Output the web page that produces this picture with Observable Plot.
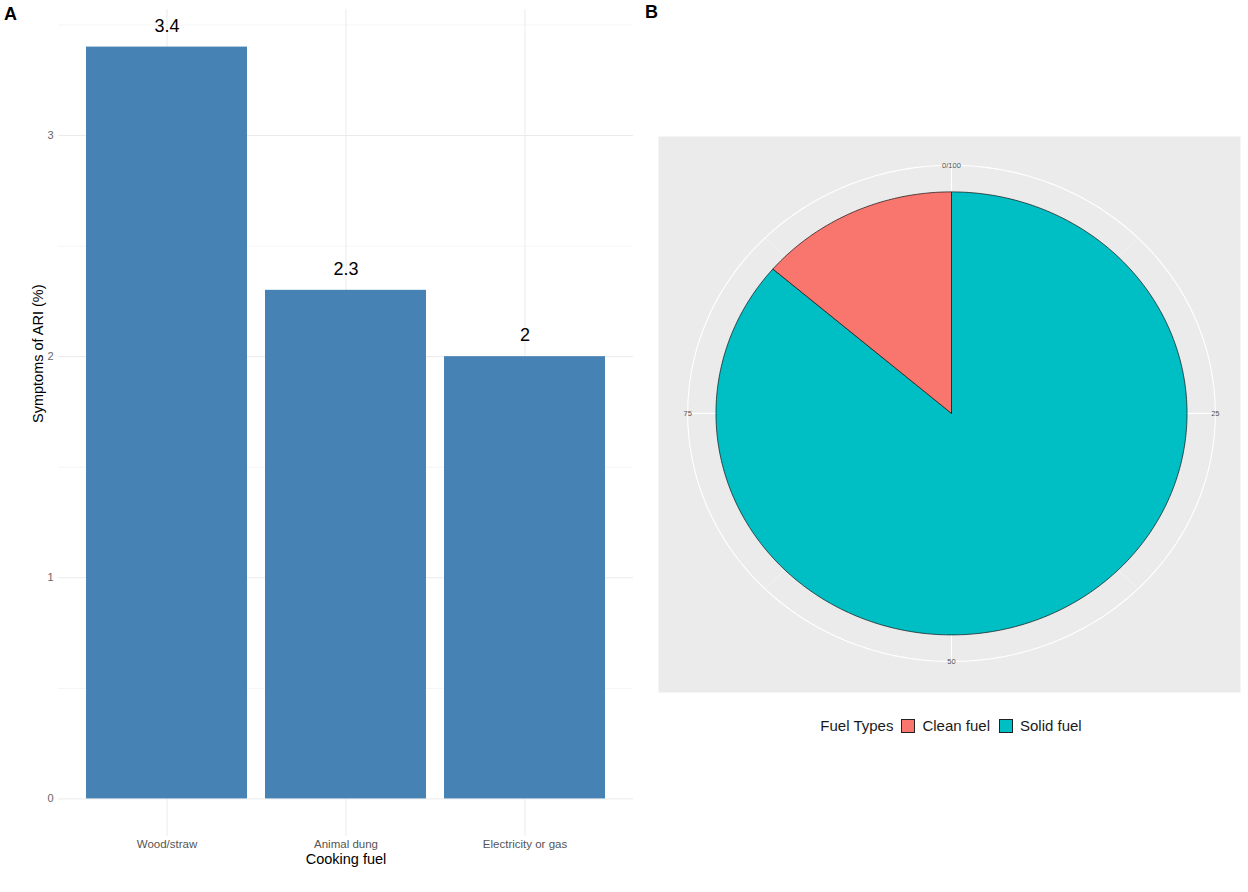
<!DOCTYPE html>
<html>
<head>
<meta charset="utf-8">
<script src="https://cdn.jsdelivr.net/npm/d3@7"></script>
<script src="https://cdn.jsdelivr.net/npm/@observablehq/plot@0.6"></script>
<style>
  html, body { margin: 0; padding: 0; background: #fff; }
  #fig { position: relative; width: 1248px; height: 892px; font-family: "Liberation Sans", Arial, sans-serif; overflow: hidden; }
  .panel { position: absolute; top: 0; }
  .tag { position: absolute; font-weight: bold; font-size: 18px; color: #000; }
  #legend { position: absolute; left: 655px; width: 592px; top: 717px; display: flex; justify-content: center; align-items: center; font-size: 15px; color: #1a1a1a; }
  .sw { width: 12px; height: 12px; border: 0.8px solid #222; display: inline-block; }
</style>
</head>
<body>
<div id="fig">
  <div class="tag" style="left:4px; top:4px;">A</div>
  <div class="tag" style="left:645px; top:2px;">B</div>
  <div id="panelA" class="panel" style="left:0px;"></div>
  <div id="panelB" class="panel" style="left:640px;"></div>
  <div id="legend"></div>
</div>
<script>
// ---------- Data: panel A ----------
const cookingFuels = ["Wood/straw", "Animal dung", "Electricity or gas"];
const ariPercent = [3.4, 2.3, 2];
const yMajorTicks = [0, 1, 2, 3];
const yMinorTicks = [0.5, 1.5, 2.5, 3.5];

// ---------- Data: panel B ----------
const fuelTypes = ["Clean fuel", "Solid fuel"];
const fuelShares = [13.7, 86.3];
const fuelColors = ["#F8766D", "#00BFC4"];
const thetaMajor = [0, 25, 50, 75];
const thetaLabels = ["0/100", "25", "50", "75"];
const thetaMinor = [12.5, 37.5, 62.5, 87.5];

const FONT = '"Liberation Sans", Arial, sans-serif';

// ---------- Panel A: bar chart ----------
const barData = cookingFuels.map((f, i) => ({fuel: f, value: ariPercent[i]}));

const chartA = Plot.plot({
  width: 640,
  height: 880,
  marginLeft: 58,
  marginRight: 7,
  marginTop: 9,
  marginBottom: 44,
  style: {fontFamily: FONT, background: "transparent", overflow: "visible"},
  x: {domain: cookingFuels, paddingInner: 0.1, paddingOuter: 0.15},
  y: {domain: [-0.17, 3.57]},
  marks: [
    Plot.ruleY(yMinorTicks, {stroke: "#f2f2f2", strokeWidth: 0.8}),
    Plot.ruleY(yMajorTicks, {stroke: "#ebebeb", strokeWidth: 1}),
    Plot.ruleX(cookingFuels, {x: d => d, stroke: "#ebebeb", strokeWidth: 1}),
    Plot.barY(barData, {x: "fuel", y: "value", fill: "#4682B4"}),
    Plot.text(barData, {x: "fuel", y: "value", text: d => String(d.value), dy: -21, fontSize: 18, fill: "#000"}),
    Plot.axisY({ticks: yMajorTicks, tickFormat: d => String(d), tickSize: 0, tickPadding: 5, fontSize: 11, color: "#666", label: null}),
    Plot.axisX({tickSize: 0, tickPadding: 3, fontSize: 11.5, color: "#555", label: null}),
    Plot.text([0], {frameAnchor: "bottom", dy: 27, text: () => "Cooking fuel", fontSize: 14.5, fill: "#000"}),
    Plot.text([0], {frameAnchor: "left", dx: -20, rotate: -90, text: () => "Symptoms of ARI (%)", fontSize: 14.5, fill: "#000"})
  ]
});
document.getElementById("panelA").appendChild(chartA);

// ---------- Panel B: pie in polar coordinates ----------
// Stack like ggplot: the first level sits on top of the theta range.
const slices = [];
{
  let acc = 0;
  for (let i = fuelTypes.length - 1; i >= 0; --i) {
    slices.push({type: fuelTypes[i], color: fuelColors[i], t0: acc, t1: acc + fuelShares[i]});
    acc += fuelShares[i];
  }
}
const total = d3.sum(fuelShares);
const px = (t, r) => r * Math.sin(2 * Math.PI * t / total);
const py = (t, r) => r * Math.cos(2 * Math.PI * t / total);

// outline points of each slice (centre + arc), derived from the shares above
const slicePts = slices.flatMap(s => {
  const ts = d3.range(s.t0, s.t1, 0.2).concat([s.t1]);
  return [{type: s.type, x: 0, y: 0}]
    .concat(ts.map(t => ({type: s.type, x: px(t, 1), y: py(t, 1)})))
    .concat([{type: s.type, x: 0, y: 0}]);
});

const RING = 1.12;
const ringPts = d3.range(0, total + 0.2, 0.2).map(t => ({x: px(t, RING), y: py(t, RING)}));

const chartB = Plot.plot({
  width: 608,
  height: 720,
  marginLeft: 18,
  marginRight: 8,
  marginTop: 136,
  marginBottom: 28,
  style: {fontFamily: FONT, background: "transparent", overflow: "visible"},
  x: {domain: [-1.244, 1.227], axis: null},
  y: {domain: [-1.26, 1.25], axis: null},
  color: {domain: fuelTypes, range: fuelColors},
  marks: [
    Plot.frame({fill: "#ebebeb", stroke: null}),
    Plot.link(thetaMinor, {x1: 0, y1: 0, x2: t => px(t, RING), y2: t => py(t, RING), stroke: "#f7f7f7", strokeWidth: 0.6}),
    Plot.link(thetaMajor, {x1: 0, y1: 0, x2: t => px(t, RING), y2: t => py(t, RING), stroke: "#fff", strokeWidth: 1.1}),
    Plot.line(ringPts, {x: "x", y: "y", stroke: "#fff", strokeWidth: 1.1}),
    ...slices.map(s => Plot.line(slicePts.filter(d => d.type === s.type), {
      x: "x", y: "y", fill: s.color, stroke: "#111", strokeWidth: 0.7, curve: "linear"
    })),
    Plot.text(thetaMajor, {x: t => px(t, RING), y: t => py(t, RING), text: (t, i) => thetaLabels[i], fontSize: 7.5, fill: "#555"})
  ]
});
document.getElementById("panelB").appendChild(chartB);

// ---------- Legend for panel B ----------
const legend = document.getElementById("legend");
const title = document.createElement("span");
title.textContent = "Fuel Types";
title.style.marginRight = "8px";
legend.appendChild(title);
fuelTypes.forEach((f, i) => {
  const sw = document.createElement("span");
  sw.className = "sw";
  sw.style.background = fuelColors[i];
  legend.appendChild(sw);
  const lab = document.createElement("span");
  lab.textContent = f;
  lab.style.marginLeft = "7px";
  lab.style.marginRight = i < fuelTypes.length - 1 ? "9px" : "0";
  legend.appendChild(lab);
});
</script>
</body>
</html>
